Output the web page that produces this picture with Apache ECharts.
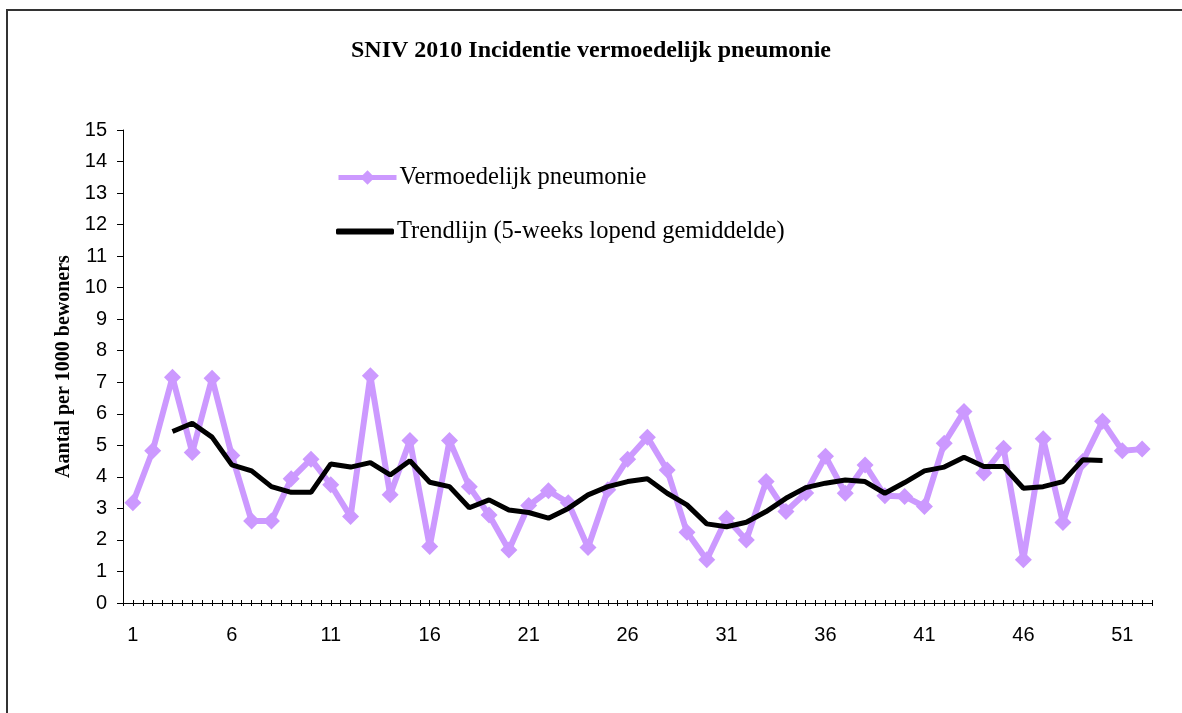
<!DOCTYPE html>
<html>
<head>
<meta charset="utf-8">
<script src="https://cdn.jsdelivr.net/npm/echarts@6/dist/echarts.min.js"></script>
<style>
  html, body { margin: 0; padding: 0; background: #fff; }
  #chart { width: 1182px; height: 713px; }
</style>
</head>
<body>
<div id="chart"></div>
<script>
// weken 1..52
var weeks = [];
for (var w = 1; w <= 52; w++) weeks.push(String(w));

// vermoedelijk pneumonie per 1000 bewoners
var pneumonie = [
  3.18, 4.83, 7.16, 4.77, 7.13, 4.68, 2.60, 2.60, 3.94, 4.56,
  3.75, 2.74, 7.21, 3.43, 5.15, 1.79, 5.15, 3.69, 2.79, 1.68,
  3.09, 3.56, 3.18, 1.76, 3.59, 4.56, 5.26, 4.22, 2.24, 1.37,
  2.69, 2.00, 3.85, 2.90, 3.49, 4.65, 3.48, 4.38, 3.40, 3.38,
  3.06, 5.07, 6.07, 4.12, 4.91, 1.37, 5.21, 2.55, 4.49, 5.76,
  4.83, 4.88
];

// 5-weeks lopend gemiddelde
var trend = [
  null, null, 5.44, 5.70, 5.26, 4.38, 4.19, 3.69, 3.51, 3.51,
  4.41, 4.31, 4.45, 4.06, 4.51, 3.83, 3.69, 3.02, 3.27, 2.95,
  2.87, 2.69, 3.00, 3.43, 3.69, 3.85, 3.94, 3.48, 3.11, 2.51,
  2.42, 2.56, 2.90, 3.32, 3.66, 3.80, 3.90, 3.85, 3.48, 3.82,
  4.19, 4.31, 4.62, 4.33, 4.33, 3.64, 3.69, 3.85, 4.54, 4.52,
  null, null
];

var serif = "'Liberation Serif', 'DejaVu Serif', serif";
var sans = "'Liberation Sans', Arial, sans-serif";
var purple = "#CC99FF";

var chart = echarts.init(document.getElementById("chart"));

// as met alleen streepjes (kruisend over de x-as)
function tickAxis(alignWithLabel) {
  return {
    type: "category",
    data: weeks,
    position: "bottom",
    offset: -3,
    boundaryGap: true,
    axisLine: { show: false },
    axisLabel: { show: false },
    splitLine: { show: false },
    axisTick: {
      show: true,
      interval: 0,
      alignWithLabel: alignWithLabel,
      length: 6,
      lineStyle: { color: "#000", width: 1 }
    }
  };
}

var legendText = { fontFamily: serif, fontSize: 24.5, color: "#000", padding: [0, 0, 0, -2] };

chart.setOption({
  animation: false,
  backgroundColor: "#fff",
  title: {
    text: "SNIV 2010 Incidentie vermoedelijk pneumonie",
    left: "center",
    top: 34,
    textStyle: { fontFamily: serif, fontWeight: "bold", fontSize: 24, color: "#000" }
  },
  legend: [
    {
      orient: "vertical",
      left: 336,
      top: 165,
      padding: 0,
      itemWidth: 58,
      itemHeight: 18,
      lineStyle: { width: 5 },
      textStyle: legendText,
      data: ["Vermoedelijk pneumonie"]
    },
    {
      orient: "vertical",
      left: 336,
      top: 219,
      padding: 0,
      itemWidth: 58,
      itemHeight: 6,
      textStyle: legendText,
      data: [{ name: "Trendlijn (5-weeks lopend gemiddelde)", icon: "roundRect" }]
    }
  ],
  graphic: [{
    type: "rect",
    shape: { x: 7, y: 10, width: 1300, height: 900 },
    style: { fill: "none", stroke: "#333", lineWidth: 2 },
    silent: true
  }],
  grid: { left: 123, right: 30, top: 130, bottom: 110 },
  xAxis: [
    {
      type: "category",
      data: weeks,
      position: "bottom",
      boundaryGap: true,
      axisLine: { show: true, lineStyle: { color: "#000", width: 1 } },
      axisTick: { show: false },
      axisLabel: {
        interval: 4,
        margin: 22,
        fontFamily: sans,
        fontSize: 20,
        color: "#000"
      },
      splitLine: { show: false }
    },
    tickAxis(false),
    tickAxis(true)
  ],
  yAxis: {
    type: "value",
    min: 0,
    max: 15,
    interval: 1,
    name: "Aantal per 1000 bewoners",
    nameLocation: "middle",
    nameGap: 43,
    nameTextStyle: { fontFamily: serif, fontWeight: "bold", fontSize: 20, color: "#000" },
    axisLine: { show: true, lineStyle: { color: "#000", width: 1 } },
    axisTick: { show: true, length: 6, lineStyle: { color: "#000" } },
    axisLabel: { margin: 16, fontFamily: sans, fontSize: 20, color: "#000" },
    splitLine: { show: false }
  },
  series: [
    {
      name: "Vermoedelijk pneumonie",
      type: "line",
      data: pneumonie,
      symbol: "diamond",
      symbolSize: 17,
      showSymbol: true,
      showAllSymbol: true,
      color: purple,
      lineStyle: { width: 6, color: purple },
      itemStyle: { color: purple },
      z: 2
    },
    {
      name: "Trendlijn (5-weeks lopend gemiddelde)",
      type: "line",
      data: trend,
      symbol: "none",
      color: "#000",
      lineStyle: { width: 5, color: "#000" },
      z: 3
    }
  ]
});
</script>
</body>
</html>
